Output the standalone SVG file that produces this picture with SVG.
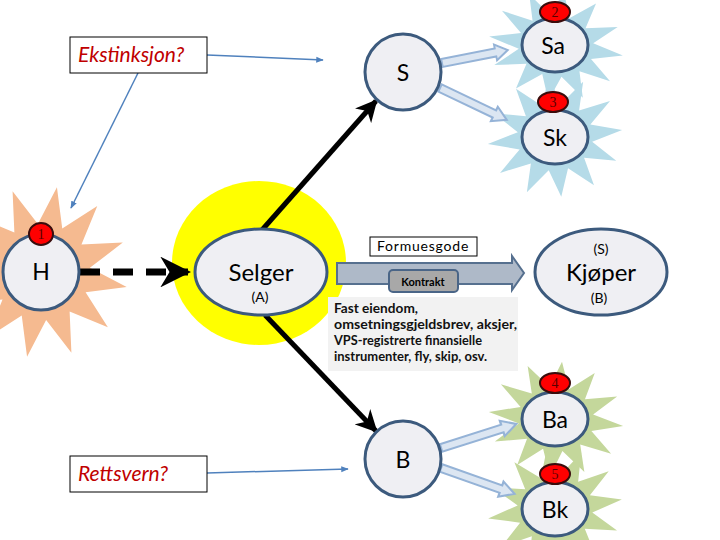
<svg xmlns="http://www.w3.org/2000/svg" xmlns:xlink="http://www.w3.org/1999/xlink" width="720" height="540" viewBox="0 0 720 540">
<style>
.node{fill:#EFEFF3;stroke:#3C5A7D;stroke-width:3}
.lbl{font-family:Lato,"Open Sans","Liberation Sans",sans-serif;fill:#000;text-anchor:middle}
.big{font-size:23px}
.sm{font-size:14px}
.badge{fill:#FF0000;stroke:#3A0C0C;stroke-width:2}
.bt{font-family:"Liberation Serif",serif;font-size:14px;fill:#5A0000;text-anchor:middle}
.q{font-family:Lato,"Open Sans",sans-serif;font-style:italic;font-size:21px;fill:#C00000}
.qbox{fill:#fff;stroke:#000;stroke-width:1}
.thin{stroke:#4F81BD;stroke-width:1.5;fill:none}
.blk{stroke:#000;stroke-width:5;fill:none}
.hol{fill:#DCE6F2;stroke:#95B3D7;stroke-width:2}
.info{font-family:Lato,"Open Sans",sans-serif;font-size:13px;font-weight:bold;fill:#111}
</style>
<defs>
<path id="star" d="M50,0 L27,7.2 L43.3,25 L19.8,19.8 L25,43.3 L7.2,27 L0,50 L-7.2,27 L-25,43.3 L-19.8,19.8 L-43.3,25 L-27,7.2 L-50,0 L-27,-7.2 L-43.3,-25 L-19.8,-19.8 L-25,-43.3 L-7.2,-27 L0,-50 L7.2,-27 L25,-43.3 L19.8,-19.8 L43.3,-25 L27,-7.2 Z"/>
<path id="hollow" d="M0,-4 L57,-4 L57,-8 L70,0 L57,8 L57,4 L0,4 Z"/>
<marker id="mblk" viewBox="0 0 10 10" refX="9" refY="5" markerWidth="4.4" markerHeight="4.4" orient="auto">
<path d="M0,0 L10,5 L0,10 L3,5 Z" fill="#000"/>
</marker>
<marker id="mthin" viewBox="0 0 10 10" refX="9" refY="5" markerWidth="5" markerHeight="5" orient="auto">
<path d="M0,1 L10,5 L0,9 Z" fill="#4F81BD"/>
</marker>
</defs>

<!-- background shapes -->
<ellipse cx="259" cy="263" rx="87" ry="82" fill="#FFFF00"/>
<use xlink:href="#star" href="#star" fill="#F5BA90" transform="translate(42,272) rotate(10) scale(1.72)"/>
<use xlink:href="#star" href="#star" fill="#B5DBE8" transform="translate(556,46) rotate(8) scale(1.35,1.1)"/>
<use xlink:href="#star" href="#star" fill="#B5DBE8" transform="translate(555,137) rotate(-6) scale(1.35,1.2)"/>
<use xlink:href="#star" href="#star" fill="#C4D79B" transform="translate(556,419) rotate(6) scale(1.35,1.15)"/>
<use xlink:href="#star" href="#star" fill="#C4D79B" transform="translate(555,509) rotate(-8) scale(1.35,1.2)"/>

<!-- connectors -->
<g id="connectors">
<line class="thin" x1="207" y1="55" x2="323" y2="60" marker-end="url(#mthin)"/>
<line class="thin" x1="138" y1="73" x2="71" y2="208" marker-end="url(#mthin)"/>
<line class="thin" x1="207" y1="473" x2="348" y2="469" marker-end="url(#mthin)"/>
<line class="blk" x1="262" y1="230" x2="376" y2="101" marker-end="url(#mblk)"/>
<line class="blk" x1="265" y1="315" x2="376" y2="431" marker-end="url(#mblk)"/>
<line x1="80" y1="272" x2="188" y2="272" stroke="#000" stroke-width="7" stroke-dasharray="20,13" marker-end="url(#mblk)"/>
<use xlink:href="#hollow" href="#hollow" class="hol" transform="translate(442,63) rotate(-11.1) scale(0.957,1)"/>
<use xlink:href="#hollow" href="#hollow" class="hol" transform="translate(440,88) rotate(25.5) scale(1.057,1)"/>
<use xlink:href="#hollow" href="#hollow" class="hol" transform="translate(441,448) rotate(-17.7) scale(1.129,1)"/>
<use xlink:href="#hollow" href="#hollow" class="hol" transform="translate(441,468) rotate(19.4) scale(1.114,1)"/>
<path d="M337,263 L512,263 L512,256 L524,273 L512,290 L512,284 L337,284 Z" fill="#AEB9C8" stroke="#56708F" stroke-width="2"/>
</g>

<g id="ekstinksjon">
<rect class="qbox" x="70" y="37" width="137" height="36"/>
<text class="q" x="78" y="62">Ekstinksjon?</text>
</g>
<g id="rettsvern">
<rect class="qbox" x="70" y="456" width="137" height="36"/>
<text class="q" x="78" y="481">Rettsvern?</text>
</g>

<g id="H">
<circle class="node" cx="41" cy="272" r="38"/>
<text class="lbl big" x="41" y="280">H</text>
<ellipse class="badge" cx="41" cy="234" rx="12" ry="11"/>
<text class="bt" x="41" y="239">1</text>
</g>

<g id="S">
<circle class="node" cx="403" cy="72" r="38"/>
<text class="lbl big" x="403" y="81">S</text>
</g>

<g id="Sa">
<ellipse class="node" cx="555" cy="45" rx="33" ry="27"/>
<text class="lbl big" x="553" y="54">Sa</text>
<ellipse class="badge" cx="555" cy="12" rx="15" ry="10"/>
<text class="bt" x="555" y="17">2</text>
</g>

<g id="Sk">
<ellipse class="node" cx="555" cy="137" rx="33" ry="27"/>
<text class="lbl big" x="555" y="146">Sk</text>
<ellipse class="badge" cx="553" cy="102" rx="15" ry="10"/>
<text class="bt" x="553" y="107">3</text>
</g>

<g id="Selger">
<ellipse class="node" cx="261" cy="272" rx="66" ry="43"/>
<text class="lbl" x="261" y="281" font-size="24">Selger</text>
<text class="lbl sm" x="260" y="302">(A)</text>
</g>

<g id="Kjoper">
<ellipse class="node" cx="601" cy="272" rx="66" ry="43"/>
<text class="lbl sm" x="601" y="254">(S)</text>
<text class="lbl" x="601" y="281" font-size="24">Kjøper</text>
<text class="lbl sm" x="599" y="303">(B)</text>
</g>

<g id="formuesgode">
<rect x="370" y="237" width="107" height="19" fill="#fff" stroke="#000" stroke-width="1"/>
<text class="lbl" x="423" y="251" font-size="14" letter-spacing="0.8">Formuesgode</text>
</g>

<g id="kontrakt">
<rect x="389" y="270" width="69" height="22" rx="4" fill="#A8A8A8" stroke="#4A6587" stroke-width="2"/>
<text class="lbl" x="423" y="286" font-size="11" font-weight="bold">Kontrakt</text>
</g>

<g id="info">
<rect x="328" y="297" width="190" height="74" fill="#F2F2F2"/>
<text class="info" x="334" y="313" textLength="84" lengthAdjust="spacingAndGlyphs">Fast eiendom,</text>
<text class="info" x="334" y="329" textLength="183" lengthAdjust="spacingAndGlyphs">omsetningsgjeldsbrev, aksjer,</text>
<text class="info" x="334" y="345" textLength="148" lengthAdjust="spacingAndGlyphs">VPS-registrerte finansielle</text>
<text class="info" x="334" y="361" textLength="153" lengthAdjust="spacingAndGlyphs">instrumenter, fly, skip, osv.</text>
</g>

<g id="B">
<circle class="node" cx="403" cy="459" r="38"/>
<text class="lbl big" x="403" y="468">B</text>
</g>

<g id="Ba">
<ellipse class="node" cx="555" cy="419" rx="33" ry="27"/>
<text class="lbl big" x="555" y="428">Ba</text>
<ellipse class="badge" cx="555" cy="383" rx="15" ry="10"/>
<text class="bt" x="555" y="388">4</text>
</g>

<g id="Bk">
<ellipse class="node" cx="555" cy="509" rx="33" ry="27"/>
<text class="lbl big" x="555" y="518">Bk</text>
<ellipse class="badge" cx="555" cy="474" rx="15" ry="10"/>
<text class="bt" x="555" y="479">5</text>
</g>
</svg>
